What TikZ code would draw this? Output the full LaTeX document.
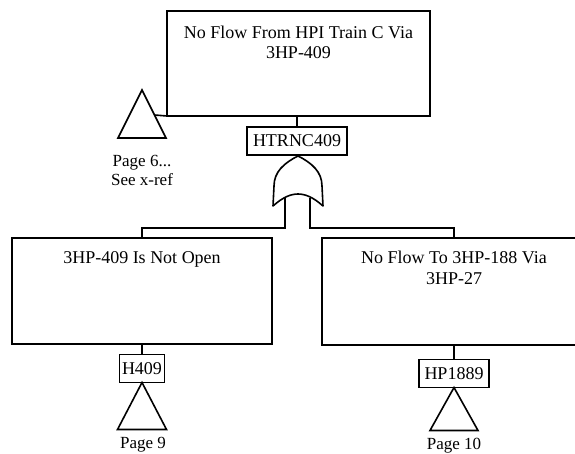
\documentclass[tikz,border=0pt]{standalone}
\usepackage{fontspec}
\setmainfont{Liberation Serif}
\usetikzlibrary{calc}
\begin{document}
\begin{tikzpicture}[x=1pt,y=-1pt,
  evbox/.style={draw, line width=1.8pt, inner sep=0pt, outer sep=0pt},
  tag/.style={draw, line width=1.6pt, inner sep=0pt, outer sep=0pt,
    minimum height=28pt, font=\fontsize{18}{20}\selectfont},
  desc/.style={inner sep=0pt, align=center, anchor=north,
    font=\fontsize{18}{20.5}\selectfont},
  xfer/.style={draw, line width=1.6pt, line join=miter},
  pg/.style={inner sep=0pt, anchor=base, font=\fontsize{17}{19}\selectfont},
  wire/.style={line width=1.6pt}]
\useasboundingbox (0,0) rectangle (575,454);
\clip (0,0) rectangle (575,454);

% top event
\node[evbox, minimum width=263pt, minimum height=105pt] (top) at (298.5,63.5) {};
\node[desc] (toptxt) at (298.5,25.5) {No Flow From HPI Train C Via\\3HP-409};
\node[tag, minimum width=100pt] (gtag) at (297,141) {HTRNC409};

% transfer-in triangle on the left of the top event
\coordinate (t6) at (142,90);
\draw[xfer] (t6) -- ++(24,48) -- ++(-48,0) -- cycle;
\coordinate (t6side) at ($(t6)+(12.5,25)$);
\node[pg] (p6a) at (142,167) {Page 6...};
\node[pg] (p6b) at (142,186) {See x-ref};

% OR gate
\coordinate (gtip) at (298,156);
\draw[wire, line join=round] (gtip)
  .. controls (284,163) and (274,172) .. (274,186) -- (273,206)
  .. controls (283,197) and (291,194) .. (298,194)
  .. controls (305,194) and (313,197) .. (323,206)
  -- (322,186) .. controls (322,172) and (312,163) .. (gtip) -- cycle;
\coordinate (gL) at (285,198);
\coordinate (gR) at (310,198);
\coordinate (bus) at (0,228);

% lower events
\node[evbox, minimum width=260pt, minimum height=106pt] (lbox) at (142,291) {};
\node[desc] (ltxt) at (142,251) {3HP-409 Is Not Open};
\node[evbox, minimum width=264pt, minimum height=107pt] (rbox) at (454,291.5) {};
\node[desc] (rtxt) at (454,251) {No Flow To 3HP-188 Via\\3HP-27};

\node[tag, minimum width=45pt] (ltag) at (142,368.5) {H409};
\node[tag, minimum width=70pt] (rtag) at (454,373.5) {HP1889};

% transfer-out triangles hanging from the gate tags
\draw[xfer] (ltag.south) -- ++(24.5,47) -- ++(-49,0) -- cycle;
\draw[xfer] (rtag.south) -- ++(24,43) -- ++(-48,0) -- cycle;
\node[pg] (p9) at (143,448) {Page 9};
\node[pg] (p10) at (454,449) {Page 10};

% connectors
\draw[wire] (gtag.north) -- (gtag.north |- top.south);
\draw[wire] (top.south west) -- (t6side);
\draw[wire] (gL) -- (gL |- bus) -| (lbox.north);
\draw[wire] (gR) -- (gR |- bus) -| (rbox.north);
\draw[wire] (lbox.south) -- (ltag.north);
\draw[wire] (rbox.south) -- (rtag.north);
\end{tikzpicture}
\end{document}
